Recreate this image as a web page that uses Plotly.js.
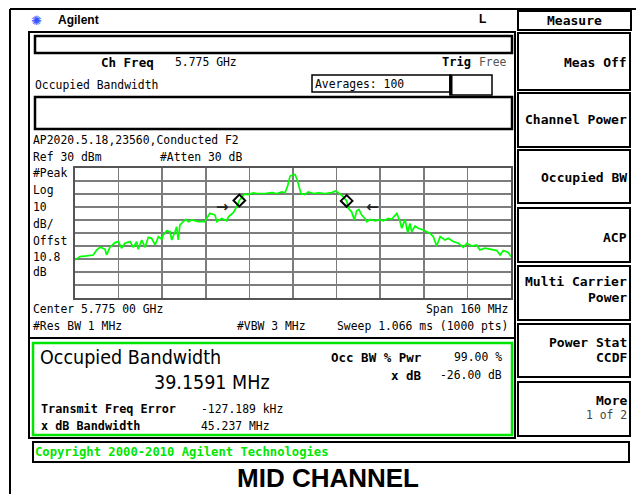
<!DOCTYPE html>
<html><head><meta charset="utf-8">
<script src="https://cdn.plot.ly/plotly-3.0.1.min.js"></script>
<style>html,body{margin:0;padding:0;background:#fff;overflow:hidden}#chart{width:636px;height:494px}</style>
</head><body><div id="chart"></div>
<script>
// Spectrum trace (frequency in MHz, level in dBm)
const freqMHz = [5695.0,5696.8,5699.3,5701.7,5703.0,5704.2,5706.0,5706.6,5707.8,5709.7,
5710.9,5712.1,5713.3,5715.2,5716.4,5717.6,5718.2,5719.5,5720.7,5721.9,
5723.1,5724.4,5725.6,5726.8,5727.4,5728.7,5729.9,5730.5,5731.7,5732.3,
5732.9,5733.5,5734.7,5735.7,5736.6,5737.8,5740.3,5742.7,5743.3,5744.5,
5746.4,5747.0,5748.8,5750.7,5751.3,5753.1,5754.3,5755.3,5757.1,5758.6,
5760.4,5761.7,5764.7,5767.2,5769.0,5770.9,5772.1,5773.1,5773.9,5774.7,
5775.7,5776.6,5777.9,5779.4,5780.6,5782.5,5784.3,5786.8,5789.2,5790.7,
5792.3,5793.5,5794.7,5795.3,5796.5,5797.5,5798.4,5799.2,5800.2,5801.4,
5802.1,5803.3,5805.1,5806.9,5808.1,5810.0,5811.2,5812.4,5813.1,5814.3,
5814.9,5816.1,5817.1,5817.9,5818.6,5819.8,5821.0,5822.8,5824.1,5825.3,
5826.5,5827.7,5829.0,5830.8,5832.0,5833.8,5835.7,5837.5,5838.8,5840.6,
5842.4,5843.6,5845.5,5847.9,5849.8,5851.0,5852.2,5854.0,5855.0];
const levelDbm = [-40.7,-38.1,-37.6,-36.9,-33.0,-31.0,-32.5,-36.9,-31.0,-27.4,
-26.6,-31.7,-27.9,-26.6,-31.0,-26.6,-32.5,-25.4,-31.0,-23.3,
-24.1,-29.2,-22.8,-24.8,-21.5,-18.2,-19.0,-25.4,-19.0,-15.2,
-25.4,-13.9,-11.3,-9.5,-11.3,-10.0,-11.3,-11.3,-8.8,-4.9,
-6.2,-11.3,-8.8,-10.6,-7.5,-4.4,0.1,5.0,9.9,9.6,
10.9,10.4,10.4,11.1,10.4,11.6,10.9,16.8,23.6,24.6,
25.0,20.6,10.4,9.6,11.6,10.4,10.9,10.4,11.1,12.4,
9.9,7.8,4.7,-1.1,-3.7,-10.0,-2.9,-1.9,-6.2,-8.8,
-11.3,-9.5,-10.6,-9.5,-10.6,-8.8,-9.5,-6.2,-4.9,-11.3,
-16.4,-9.5,-19.8,-12.6,-19.0,-14.6,-16.4,-17.7,-19.0,-20.3,
-22.8,-30.0,-22.8,-25.4,-24.1,-26.6,-27.9,-31.0,-27.9,-30.0,
-29.2,-33.0,-31.7,-33.0,-33.5,-36.9,-33.5,-35.0,-38.0];
// Occupied-bandwidth markers (diamonds)
const markerFreqMHz = [5755.3, 5794.7];
const markerLevelDbm = [5.0, 4.7];
// x dB arrows
const arrowFreqMHz = [5749.2, 5804.2];
const arrowLevelDbm = [0.0, 0.0];
const arrowText = ['→', '←'];
// Axis settings
const freqRange = [5695, 5855];   // center 5.775 GHz, span 160 MHz
const levelRange = [-70, 30];     // ref 30 dBm, 10 dB/div
const freqDiv = 16, levelDiv = 10;

// Screen texts
const softkeys = [
  ['Meas Off'], ['Channel Power'], ['Occupied BW'], ['ACP'],
  ['Multi Carrier','Power'], ['Power Stat','CCDF'], ['More','1 of 2']
];
const sideLabels = ['#Peak','Log','10','dB/','Offst','10.8','dB'];

const MONO = 'DejaVu Sans Mono, monospace';
const SANS = 'Liberation Sans, Arial, sans-serif';
const COND = 'DejaVu Sans Condensed, Roboto, sans-serif';
const GREEN = '#00e600';

// pixel -> paper helpers (plot area 75..511 x 168..298)
const L = 75, T = 168, W = 436, H = 130;
const px = x => (x - L) / W;
const py = y => (T + H - y) / H;

const ann = [];
function txt(x, y, text, o) {
  o = o || {};
  ann.push({xref:'paper', yref:'paper', x:px(x), y:py(y), text:text, showarrow:false,
    xanchor:o.a || 'left', yanchor:'middle', borderpad:0,
    font:{family:o.f || MONO, size:o.s || 11.4, color:o.c || '#000'}});
}
const shapes = [];
function rect(x0, y0, x1, y1, o) {
  o = o || {};
  shapes.push({type:'rect', xref:'paper', yref:'paper', x0:px(x0), x1:px(x1), y0:py(y1), y1:py(y0),
    line:{color:o.c || '#000', width:o.w == null ? 2 : o.w}, fillcolor:o.fill || 'rgba(0,0,0,0)', layer:'above'});
}
function line(x0, y0, x1, y1, o) {
  o = o || {};
  shapes.push({type:'line', xref:'paper', yref:'paper', x0:px(x0), x1:px(x1), y0:py(y0), y1:py(y1),
    line:{color:o.c || '#000', width:o.w || 2}, layer:'above'});
}

// outer frame
line(10, 9, 636, 9, {w:2});
line(10, 9, 10, 494, {w:2});
// screen frame
rect(29, 32, 515, 438, {w:2});
rect(35, 36, 512, 53, {w:2.5});
rect(35, 97, 512, 129, {w:2.5});
rect(312, 75, 450, 92, {w:1.5});
rect(450, 75, 492, 95, {w:1.5});
line(451, 75, 451, 95, {w:3});
line(29, 338, 515, 338, {w:2});
rect(33, 343, 512, 435, {c:GREEN, w:2.5});
rect(33, 442, 629, 462, {w:2});
// softkeys panel
rect(518, 11, 631, 30, {w:2});
const keyBoxes = [[33,90],[93,147],[150,203],[208,262],[266,320],[324,377],[382,436]];
keyBoxes.forEach(b => rect(518, b[0], 630, b[1], {w:2}));

// header
txt(36, 20, '✺', {a:'center', f:'DejaVu Sans', s:13, c:'#3355ff'});
txt(57, 20, '<b>Agilent</b>', {f:SANS, s:12});
txt(482, 19, '<b>L</b>', {a:'center', f:SANS, s:12});
txt(100, 62, '<b>Ch Freq</b>', {s:12.5});
txt(174, 62, '5.775 GHz');
txt(472, 62, '<b>Trig</b>', {a:'right', s:12});
txt(508, 62, 'Free', {a:'right', c:'#555'});
txt(34, 85, 'Occupied Bandwidth');
txt(314, 84, 'Averages: 100');
txt(32, 140, 'AP2020.5.18,23560,Conducted F2');
txt(32, 157, 'Ref 30 dBm');
txt(159, 157, '#Atten 30 dB');
const sideY = [173, 190, 207, 224, 241, 257, 272];
sideLabels.forEach((s, i) => txt(32, sideY[i], s));
txt(32, 309, 'Center 5.775 00 GHz');
txt(509, 309, 'Span 160 MHz', {a:'right'});
txt(32, 326, '#Res BW 1 MHz');
txt(236, 326, '#VBW 3 MHz');
txt(509, 326, 'Sweep 1.066 ms (1000 pts)', {a:'right'});
// results
txt(39, 357, 'Occupied Bandwidth', {f:COND, s:19.5});
txt(153, 382, '39.1591 MHz', {f:COND, s:19.5});
txt(423, 357, '<b>Occ BW % Pwr</b>', {a:'right', s:12.5});
txt(503, 357, '99.00 %', {a:'right'});
txt(423, 375, '<b>x dB</b>', {a:'right', s:12.5});
txt(503, 375, '-26.00 dB', {a:'right'});
txt(40, 409, '<b>Transmit Freq Error</b>', {s:11.8});
txt(200, 409, '-127.189 kHz');
txt(40, 426, '<b>x dB Bandwidth</b>', {s:11.8});
txt(200, 426, '45.237 MHz');
txt(34, 452, '<b>Copyright 2000-2010 Agilent Technologies</b>', {s:12.2, c:GREEN});
txt(328, 478, '<b>MID CHANNEL</b>', {a:'center', f:SANS, s:26});
// softkey labels
txt(574, 20, '<b>Measure</b>', {a:'center', s:13});
const keyTextY = [[62],[119],[177],[237],[281,297],[342,357],[400,415]];
softkeys.forEach((k, i) => k.forEach((s, j) => {
  const bold = !(i === 6 && j === 1);
  txt(628, keyTextY[i][j], bold ? '<b>' + s + '</b>' : s, {a:'right', s: bold ? 13 : 11.4, c: bold ? '#000' : '#444'});
}));
// x dB arrows
arrowText.forEach((t, i) => ann.push({xref:'x', yref:'y', x:arrowFreqMHz[i], y:arrowLevelDbm[i], text:'<b>' + t + '</b>',
  showarrow:false, xanchor:'center', yanchor:'middle', font:{family:'DejaVu Sans', size:15, color:'#222'}}));

const data = [
  {x:freqMHz, y:levelDbm, type:'scatter', mode:'lines', line:{color:'#00ff00', width:1.7}, hoverinfo:'skip'},
  {x:markerFreqMHz, y:markerLevelDbm, type:'scatter', mode:'markers',
   marker:{symbol:'diamond-open', size:9, color:'#000', line:{width:2, color:'#000'}}, hoverinfo:'skip'}
];
const axisCommon = {showticklabels:false, ticks:'', zeroline:false, showgrid:true,
  gridcolor:'#7c7c7c', gridwidth:1.6, showline:true, mirror:true, linecolor:'#555', linewidth:2, fixedrange:true};
const layout = {
  width:636, height:494, showlegend:false,
  margin:{l:L, r:636 - L - W, t:T, b:494 - T - H, pad:0},
  paper_bgcolor:'#fff', plot_bgcolor:'#fff',
  xaxis:Object.assign({range:freqRange, tick0:freqRange[0], dtick:freqDiv}, axisCommon),
  yaxis:Object.assign({range:levelRange, tick0:levelRange[0], dtick:levelDiv}, axisCommon),
  annotations:ann, shapes:shapes
};
Plotly.newPlot('chart', data, layout, {displayModeBar:false, staticPlot:true});
</script></body></html>
